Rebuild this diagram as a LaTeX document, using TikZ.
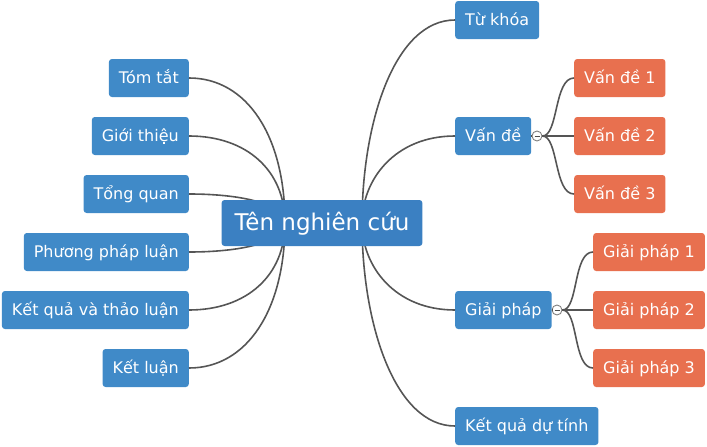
\documentclass[tikz,border=0pt]{standalone}
\usepackage{fontspec}
\setmainfont{DejaVu Sans}
\definecolor{topicblue}{HTML}{408AC8}
\definecolor{rootblue}{HTML}{3B80C2}
\definecolor{suborange}{HTML}{E8704F}
\definecolor{linkgray}{HTML}{555555}
\tikzset{
  box/.style={rounded corners=3pt, text=white, minimum height=38pt, inner xsep=10pt,
    text height=14pt, text depth=3.4pt, font=\fontsize{16}{19}\selectfont},
  topic/.style={box, fill=topicblue},
  subtopic/.style={box, fill=suborange},
  root/.style={rounded corners=3pt, fill=rootblue, text=white, minimum height=46pt,
    inner xsep=13pt, text height=19pt, text depth=5pt, font=\fontsize{23}{28}\selectfont},
  link/.style={draw=linkgray, line width=1.6pt},
  fold/.style={circle, draw=gray, fill=white, line width=0.9pt, minimum size=10pt, inner sep=0pt}
}

\begin{document}
\begin{tikzpicture}[x=1pt,y=-1pt]
        \useasboundingbox (0,0) rectangle (707,447);
        \coordinate (cl) at (285,223);
        \coordinate (cr) at (362,223);
        % left branches
        \foreach \nm/\txt/\yy in {tt/Tóm tắt/78, gt/Giới thiệu/136, tq/Tổng quan/194, pp/Phương pháp luận/252, kq/Kết quả và thảo luận/310, kl/Kết luận/368}
        {
        \node[topic, anchor=east] (\nm) at (189,\yy) {\txt};
        \draw[link] (\nm.east) .. controls +(58,0) and +(0,{(\yy-223)*0.6}) .. (cl);
        }
        % right branches
        \foreach \nm/\txt/\yy in {tk/Từ khóa/20, vd/Vấn đề/136, gp/Giải pháp/310, kd/Kết quả dự tính/426}
        {
        \node[topic, anchor=west] (\nm) at (455,\yy) {\txt};
        \draw[link] (\nm.west) .. controls +(-60,0) and +(0,{(\yy-223)*0.5}) .. (cr);
        }
        \node[root] (ten) at (322,223) {Tên nghiên cứu};
        % sub branches
        \node[fold] (vdfold) at (537,136) {};
        \node[fold] (gpfold) at (557,310) {};
        \draw[link] (vd.east) -- (vdfold.west);
        \draw[link] (gp.east) -- (gpfold.west);
        \foreach \k/\yy in {1/78, 2/136, 3/194}
        {
        \node[subtopic, anchor=west] (vd\k) at (574,\yy) {Vấn đề \k};
        \draw[link] (vdfold.east) .. controls +(16,0) and +(-20,0) .. (vd\k.west);
        }
        \foreach \k/\yy in {1/252, 2/310, 3/368}
        {
        \node[subtopic, anchor=west] (gp\k) at (593,\yy) {Giải pháp \k};
        \draw[link] (gpfold.east) .. controls +(16,0) and +(-20,0) .. (gp\k.west);
        }
        \draw[gray!60!black, line width=0.9pt] ([xshift=-2.5pt]vdfold.center) -- ([xshift=2.5pt]vdfold.center);
        \draw[gray!60!black, line width=0.9pt] ([xshift=-2.5pt]gpfold.center) -- ([xshift=2.5pt]gpfold.center);
\end{tikzpicture}
\end{document}
